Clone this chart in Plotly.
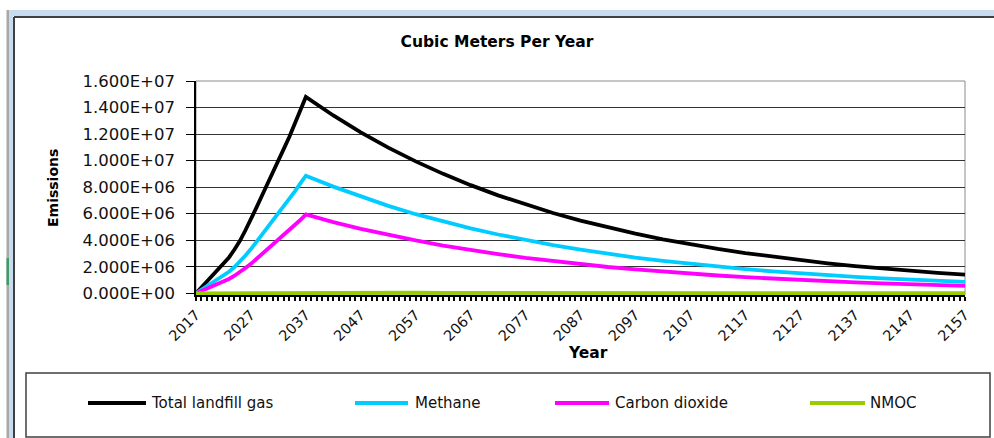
import plotly.graph_objects as go

# ---------------- data ----------------
years = [2017, 2018, 2019, 2020, 2021, 2022, 2023, 2024, 2025, 2026, 2027,
         2028, 2029, 2030, 2031, 2032, 2033, 2034, 2035, 2036, 2037,
         2042, 2047, 2052, 2057, 2062, 2067, 2072, 2077, 2082, 2087, 2092,
         2097, 2102, 2107, 2112, 2117, 2122, 2127, 2132, 2137, 2142, 2147,
         2152, 2157]

# values in millions of cubic metres per year
total_landfill_gas = [0.00, 0.45, 0.90, 1.35, 1.75, 2.20, 2.70, 3.30, 3.95, 4.75, 5.55,
                      6.45, 7.35, 8.20, 9.10, 10.00, 10.90, 11.80, 12.80, 13.80, 14.80,
                      13.40, 12.13, 10.98, 9.94, 9.00, 8.15, 7.38, 6.68, 6.05, 5.48, 4.96,
                      4.49, 4.07, 3.69, 3.34, 3.03, 2.75, 2.49, 2.26, 2.05, 1.86, 1.69,
                      1.53, 1.40]
methane = [0.00, 0.27, 0.54, 0.81, 1.05, 1.32, 1.62, 1.98, 2.37, 2.85, 3.33,
           3.87, 4.41, 4.92, 5.46, 6.00, 6.54, 7.08, 7.68, 8.28, 8.86,
           8.04, 7.28, 6.59, 5.96, 5.40, 4.89, 4.43, 4.01, 3.63, 3.29, 2.98,
           2.69, 2.44, 2.21, 2.00, 1.82, 1.65, 1.49, 1.36, 1.23, 1.12, 1.01,
           0.92, 0.86]
carbon_dioxide = [0.00, 0.18, 0.36, 0.54, 0.70, 0.88, 1.08, 1.32, 1.58, 1.90, 2.22,
                  2.58, 2.94, 3.28, 3.64, 4.00, 4.36, 4.72, 5.12, 5.52, 5.95,
                  5.36, 4.85, 4.39, 3.98, 3.60, 3.26, 2.95, 2.67, 2.42, 2.19, 1.98,
                  1.80, 1.63, 1.48, 1.34, 1.21, 1.10, 1.00, 0.90, 0.82, 0.74, 0.68,
                  0.61, 0.56]
nmoc = [0.000, 0.002, 0.004, 0.005, 0.007, 0.009, 0.010, 0.013, 0.016, 0.019, 0.022,
        0.026, 0.029, 0.033, 0.036, 0.040, 0.044, 0.047, 0.051, 0.055, 0.059,
        0.054, 0.049, 0.044, 0.040, 0.036, 0.033, 0.030, 0.027, 0.024, 0.022, 0.020,
        0.018, 0.016, 0.015, 0.013, 0.012, 0.011, 0.010, 0.009, 0.008, 0.007, 0.007,
        0.006, 0.006]

series_names = ["Total landfill gas", "Methane", "Carbon dioxide", "NMOC"]
series_colors = ["#000000", "#00ccff", "#ff00ff", "#99cc00"]

axis_years = list(range(2017, 2158))            # one category tick per year
label_years = [2017, 2027, 2037, 2047, 2057, 2067, 2077, 2087,
               2097, 2107, 2117, 2127, 2137, 2147, 2157]
y_ticks = [0, 2e6, 4e6, 6e6, 8e6, 1e7, 1.2e7, 1.4e7, 1.6e7]

title_text = "Cubic Meters Per Year"
x_title = "Year"
y_title = "Emissions"

SCALE = 1e6

# ---------------- page geometry ----------------
W_PAGE, H_PAGE = 994, 438
L, R, T, B = 196, 29, 81, 143
PW = W_PAGE - L - R
PH = H_PAGE - T - B


def px(x):
    return (x - L) / PW


def py(y):
    return (H_PAGE - B - y) / PH


FONT = "DejaVu Sans"

fig = go.Figure()
all_series = [total_landfill_gas, methane, carbon_dioxide, nmoc]
for name, vals, col in zip(series_names, all_series, series_colors):
    fig.add_trace(go.Scatter(
        x=years, y=[v * SCALE for v in vals], name=name, mode="lines",
        line=dict(color=col, width=3.8), showlegend=False, cliponaxis=False,
        hoverinfo="x+y+name"))

tick_text = [str(y) if y in label_years else "" for y in axis_years]

fig.update_xaxes(
    range=[2017, 2157], tickmode="array", tickvals=axis_years, ticktext=tick_text,
    tickangle=-45, ticks="outside", ticklen=4, tickwidth=1.5, tickcolor="#000000",
    showline=True, linecolor="#000000", linewidth=1.5, showgrid=False,
    zeroline=False, layer="below traces",
    tickfont=dict(family=FONT, size=14.5, color="#111111"))
fig.update_yaxes(
    range=[-1.3e5, 1.6e7], tickmode="array", tickvals=y_ticks,
    ticktext=[f"{v:.3E}" for v in y_ticks],
    ticks="outside", ticklen=8, tickwidth=1.2, tickcolor="#000000",
    showline=True, linecolor="#000000", linewidth=1.5,
    showgrid=True, gridcolor="#333333", gridwidth=1.2, zeroline=False,
    layer="below traces", ticklabelstandoff=8,
    tickfont=dict(family=FONT, size=16.5, color="#111111"))

shapes = []
# plot-area border (grey)
shapes.append(dict(type="rect", xref="paper", yref="paper", x0=0, x1=1, y0=0, y1=1,
                   line=dict(color="#8c8c8c", width=1), layer="below"))
# window frame
frame_fill = [
    (9, 994, 10, 16, "#c9dcef"),
    (9, 13, 10, 438, "#c9dcef"),
    (6.5, 9, 10, 438, "#a8a8a8"),
    (6.5, 9, 258, 285, "#3d9b66"),
]
for x0, x1, y0, y1, c in frame_fill:
    shapes.append(dict(type="rect", xref="paper", yref="paper",
                       x0=px(x0), x1=px(x1), y0=py(y1), y1=py(y0),
                       fillcolor=c, line=dict(width=0), layer="above"))
shapes.append(dict(type="line", xref="paper", yref="paper",
                   x0=px(14), x1=px(994), y0=py(17), y1=py(17),
                   line=dict(color="#404040", width=2)))
shapes.append(dict(type="line", xref="paper", yref="paper",
                   x0=px(14), x1=px(14), y0=py(17), y1=py(438),
                   line=dict(color="#404040", width=2)))
# legend box
shapes.append(dict(type="rect", xref="paper", yref="paper",
                   x0=px(26), x1=px(990), y0=py(437), y1=py(373),
                   line=dict(color="#404040", width=1.5)))

legend_line_x = [(88, 146), (355, 408), (555, 609), (810, 865)]
legend_text_x = [149, 413, 613, 868]
LEG_Y = 403
annotations = []
for (x0, x1), tx, name, col in zip(legend_line_x, legend_text_x, series_names, series_colors):
    shapes.append(dict(type="line", xref="paper", yref="paper",
                       x0=px(x0), x1=px(x1), y0=py(LEG_Y), y1=py(LEG_Y),
                       line=dict(color=col, width=4)))
    annotations.append(dict(text=name, xref="paper", yref="paper", x=px(tx), y=py(LEG_Y),
                            xanchor="left", yanchor="middle", showarrow=False,
                            font=dict(family=FONT, size=15, color="#111111")))

annotations.append(dict(text=y_title, xref="paper", yref="paper", x=px(53), y=py(188),
                        textangle=-90, showarrow=False, xanchor="center", yanchor="middle",
                        font=dict(family=FONT, size=14, color="#000000", weight="bold")))
annotations.append(dict(text=x_title, xref="paper", yref="paper", x=px(588), y=py(353),
                        showarrow=False, xanchor="center", yanchor="middle",
                        font=dict(family=FONT, size=15.5, color="#000000", weight="bold")))

fig.update_layout(
    width=W_PAGE, height=H_PAGE, autosize=False,
    margin=dict(l=L, r=R, t=T, b=B, pad=0),
    paper_bgcolor="#ffffff", plot_bgcolor="#ffffff",
    title=dict(text=title_text, x=0.5, xref="container", xanchor="center",
               y=1 - 42 / H_PAGE, yref="container", yanchor="middle",
               font=dict(family=FONT, size=15.5, color="#000000", weight="bold")),
    shapes=shapes, annotations=annotations,
    showlegend=False,
)

fig.write_html("out.html", config={"displayModeBar": False},
               post_script="document.body.style.margin='0';document.body.style.overflow='hidden';")
